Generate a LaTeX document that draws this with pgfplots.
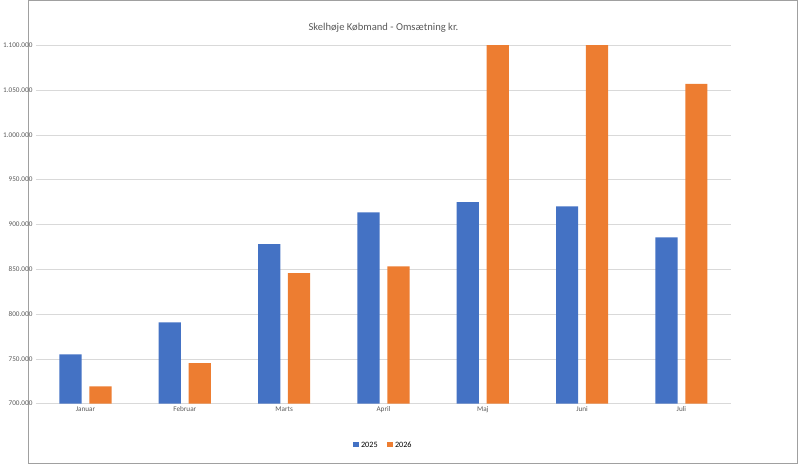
\documentclass[border=0pt]{standalone}
\usepackage{pgfplots}
\pgfplotsset{compat=1.18}
\usepackage{fontspec}
\setmainfont{Carlito}
\definecolor{c1}{RGB}{68,114,196}
\definecolor{c2}{RGB}{237,125,49}
\definecolor{gr}{RGB}{217,217,217}
\begin{document}
\begin{tikzpicture}[x=1bp,y=1bp]
\draw[draw={rgb,255:red,160;green,160;blue,160},line width=0.8bp] (-59.5bp,-61.5bp) rectangle (737.5bp,417.5bp);
\begin{axis}[
  at={(0,0)}, anchor=origin,
  scale only axis, width=720bp, height=371bp,
  ybar, bar width=23bp,
  xmin=-0.5, xmax=6.5, ymin=700000, ymax=1100000,
  ytick={700000,750000,...,1100000},
  scaled y ticks=false,
  /pgf/number format/fixed,
  /pgf/number format/precision=0,
  /pgf/number format/1000 sep={.},
  /pgf/number format/assume math mode=true,
  yticklabel style={font=\fontsize{7.5}{9}\selectfont, color={rgb,255:red,89;green,89;blue,89}},
  xtick={0,...,6}, xticklabels={Januar,Februar,Marts,April,Maj,Juni,Juli},
  xticklabel style={font=\fontsize{7.5}{9}\selectfont, color={rgb,255:red,89;green,89;blue,89}},
  major tick length=0pt,
  ymajorgrids, grid style={gr},
  axis line style={draw=none},
  axis x line*=bottom,
  x axis line style={draw=gr},
  axis y line*=left,
  clip=true,
  title={Skelhøje Købmand - Omsætning kr.},
  title style={font=\fontsize{11}{13}\selectfont, color={rgb,255:red,89;green,89;blue,89}, yshift=4bp},
  legend style={at={(0.5,-0.095)}, anchor=north, draw=none, legend columns=2, font=\fontsize{8.5}{10}\selectfont, /tikz/every even column/.append style={column sep=8bp}},
  legend image code/.code={\fill[#1] (0,-2.5bp) rectangle (6bp,3.5bp);},
]
\addplot[fill=c1, draw=none, bar shift=-15.5bp] coordinates {(0,755000) (1,790600) (2,878000) (3,913500) (4,925000) (5,920000) (6,885400)};
\addplot[fill=c2, draw=none, bar shift=15.5bp] coordinates {(0,719000) (1,745000) (2,845600) (3,853000) (4,1150000) (5,1150000) (6,1057000)};
\legend{2025,2026}
\end{axis}
\end{tikzpicture}
\end{document}
